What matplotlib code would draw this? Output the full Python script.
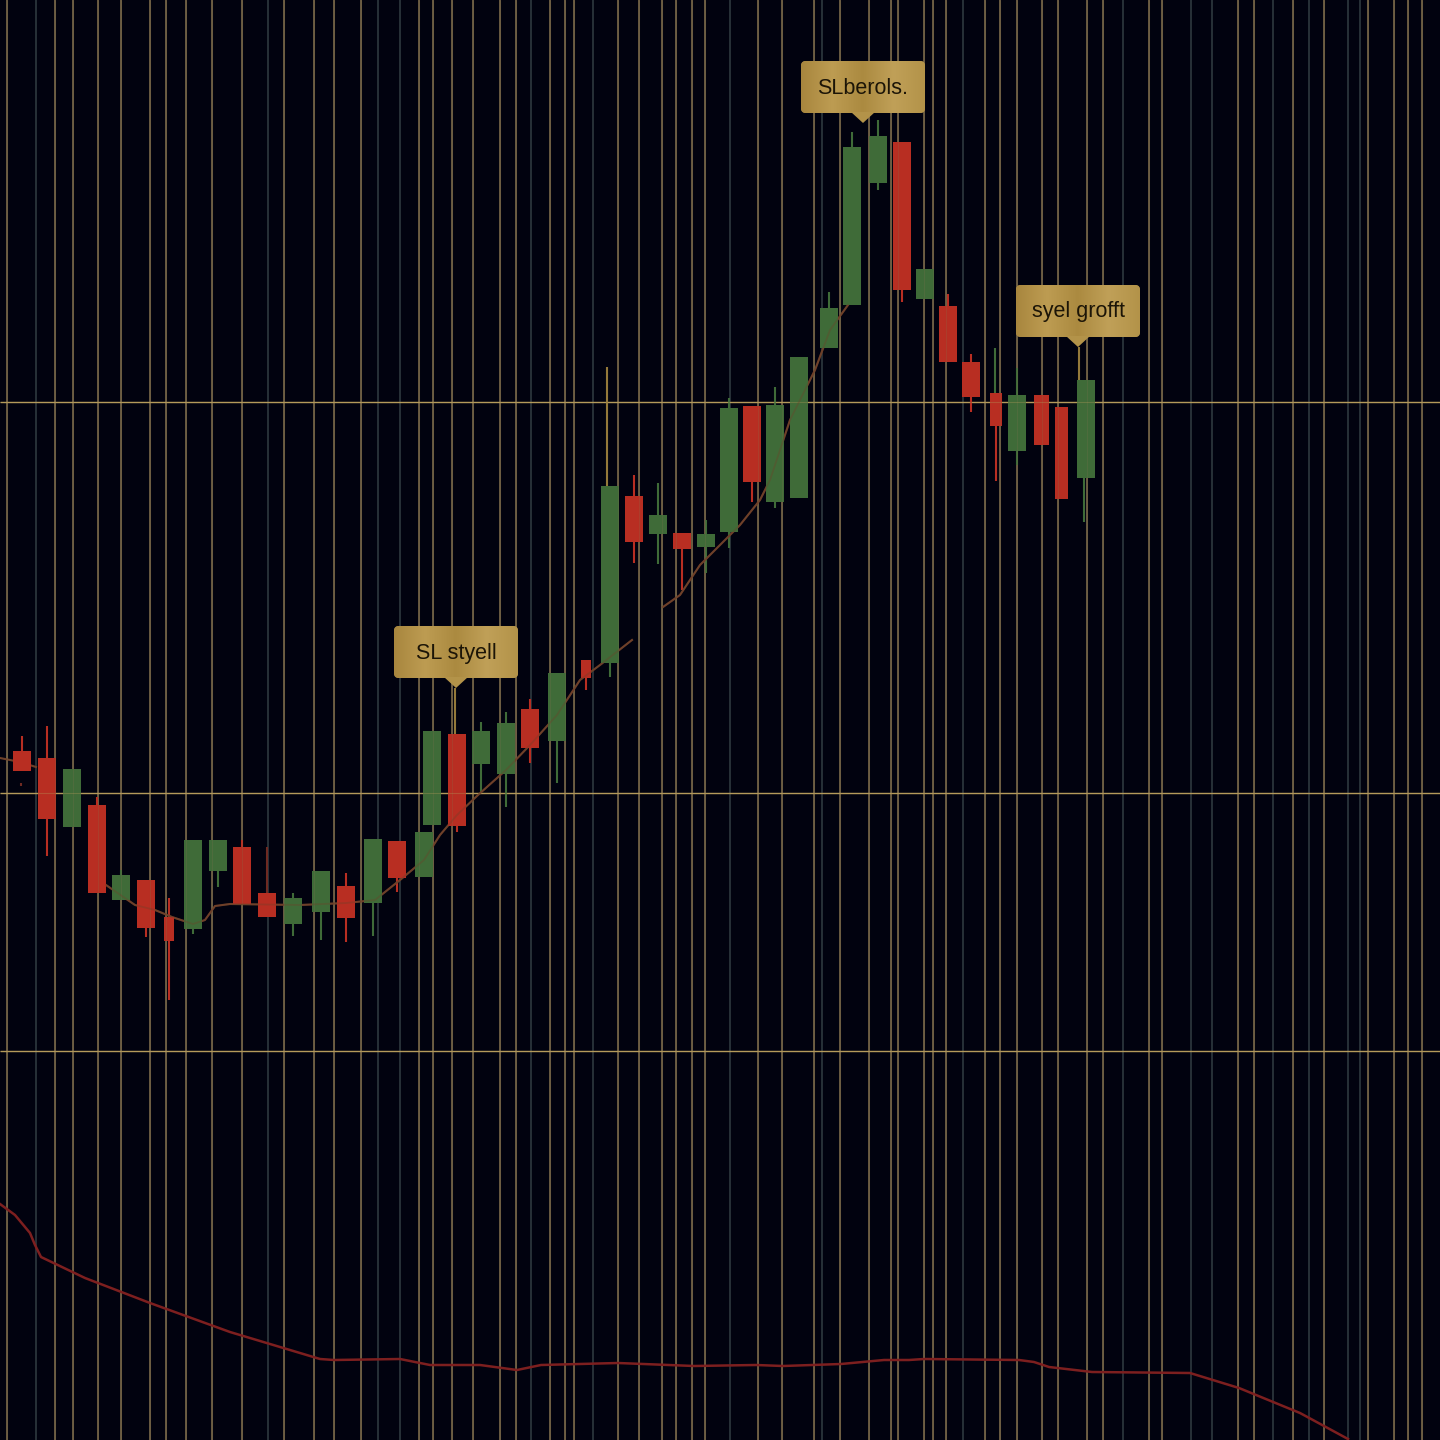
"""
Dark candlestick chart with gold labels, read off the reference picture.
Vertical scale runs downwards, values are read in picture units.
"""

import numpy as np
import matplotlib
matplotlib.use('Agg')
import matplotlib.pyplot as plt
from matplotlib.patches import FancyBboxPatch, Polygon
from matplotlib.colors import LinearSegmentedColormap


candle_x = [22, 47, 72, 97, 121, 146, 169, 193, 218, 242, 267, 293, 321, 346, 373,
            397, 424, 432, 457, 481, 506, 530, 557, 586, 610, 634, 658, 682, 706,
            729, 752, 775, 799, 829, 852, 878, 902, 925, 948, 971, 996, 1017, 1041,
            1061, 1086]
body_top = [751, 758, 769, 805, 875, 880, 917, 840, 840, 847, 893, 898, 871, 886, 839,
            841, 832, 731, 734, 731, 723, 709, 673, 660, 486, 496, 515, 533, 534,
            408, 406, 405, 357, 308, 147, 136, 142, 269, 306, 362, 393, 395, 395,
            407, 380]
body_bot = [771, 819, 827, 893, 900, 928, 941, 929, 871, 904, 917, 924, 912, 918, 903,
            878, 877, 825, 826, 764, 774, 748, 741, 678, 663, 542, 534, 549, 547,
            532, 482, 502, 498, 348, 305, 183, 290, 299, 362, 397, 426, 451, 445,
            499, 478]
wick_high = [736, 726, 769, 797, 870, 880, 898, 840, 840, 840, 893, 893, 871, 873, 839,
             841, 832, 731, 734, 722, 712, 699, 673, 660, 486, 475, 483, 533, 520,
             398, 406, 387, 357, 292, 132, 120, 142, 269, 294, 354, 393, 368, 395,
             407, 380]
wick_low = [771, 856, 827, 893, 900, 937, 1000, 934, 887, 904, 917, 936, 940, 942, 936,
            892, 877, 825, 832, 792, 807, 763, 783, 690, 677, 563, 564, 590, 573,
            548, 502, 508, 498, 348, 305, 190, 302, 299, 362, 412, 481, 465, 445,
            499, 478]
direction = ['d', 'd', 'u', 'd', 'u', 'd', 'd', 'u', 'u', 'd', 'd', 'u', 'u', 'd', 'u',
             'd', 'u', 'u', 'd', 'u', 'u', 'd', 'u', 'd', 'u', 'd', 'u', 'd', 'u',
             'u', 'd', 'u', 'u', 'u', 'u', 'u', 'd', 'u', 'd', 'd', 'd', 'u', 'd',
             'd', 'u']

# wicks that sit off their candle or have another colour
gold_wick_x = [455, 607, 1079]
gold_wick_top = [688, 367, 347]
gold_wick_bot = [734, 486, 380]
green_wick_x = [995, 1084]
green_wick_top = [348, 478]
green_wick_bot = [393, 522]
dark_wick_x = [267, 21]
dark_wick_top = [847, 783]
dark_wick_bot = [893, 786]

bright_grid = [7, 55, 73, 98, 121, 150, 166, 186, 212, 242, 284, 314, 334, 361, 419,
               433, 452, 473, 500, 516, 550, 565, 574, 618, 639, 662, 676, 692, 705,
               758, 782, 814, 840, 869, 891, 898, 924, 933, 946, 985, 1000, 1017, 1042,
               1058, 1087, 1103, 1149, 1162, 1238, 1254, 1293, 1324, 1368, 1394, 1408,
               1422]
dim_grid = [36, 268, 378, 400, 531, 593, 730, 822, 963, 1123, 1191, 1212, 1273, 1309,
            1348, 1360]
level_lines = [402, 793, 1051]

avg_x_a = [0, 20, 36]
avg_y_a = [758, 762, 767]
avg_x_b = [106, 135, 155, 172, 193, 205, 215, 230, 300, 346, 375, 400, 424, 440, 457,
           478, 506, 530, 557, 580, 600, 632]
avg_y_b = [885, 905, 910, 917, 924, 920, 906, 904, 905, 903, 900, 880, 860, 835, 815,
           795, 770, 745, 715, 680, 665, 640]
avg_x_c = [663, 680, 700, 720, 740, 760, 770, 790, 815, 830, 848]
avg_y_c = [607, 595, 565, 545, 525, 500, 480, 420, 370, 330, 305]

lower_x = [0, 15, 30, 35, 41, 85, 150, 230, 320, 334, 400, 430, 480, 517, 541, 618,
           694, 756, 783, 841, 884, 909, 924, 1019, 1034, 1049, 1092, 1190, 1239,
           1300, 1348]
lower_y = [1204, 1215, 1233, 1245, 1257, 1278, 1303, 1332, 1359, 1360, 1359, 1365, 1365,
           1370, 1365, 1363, 1366, 1365, 1366, 1364, 1360, 1360, 1359, 1360, 1362,
           1367, 1372, 1373, 1388, 1413, 1439]

label_texts = ['SLberols.', 'SL styell', 'syel grofft']
label_x = [863, 456, 1078]
label_tip = [123, 688, 347]

BG = '#01020f'
UP = '#3f6b38'
DOWN = '#b82e22'
GRID = '#85734f'
LEVEL = '#b49a5a'
AVG = '#6e4029'
BOX_W, BOX_H, TIP_H = 124, 52, 10
NARROW = {169: 10, 586: 10, 996: 12, 1041: 15, 1061: 13}

gold = LinearSegmentedColormap.from_list(
    'gold', ['#a8863e', '#bd9c52', '#ab8a40', '#c0a058', '#b39349'])

fig = plt.figure(figsize=(14.4, 14.4), dpi=100, facecolor=BG)
ax = fig.add_axes([0, 0, 1, 1])
ax.set_facecolor(BG)

ax.vlines(bright_grid, 0, 1440, colors=GRID, linewidth=1.1, zorder=1)
ax.vlines(dim_grid, 0, 1440, colors='#323d42', linewidth=1.1, zorder=1)
ax.hlines(level_lines, 0, 1440, colors=LEVEL, linewidth=1.0, zorder=1)

colors = [UP if d == 'u' else DOWN for d in direction]
widths = [NARROW.get(x, 17.5) for x in candle_x]
ax.vlines(candle_x, wick_high, wick_low, colors=colors, linewidth=1.5, zorder=2)
ax.vlines(gold_wick_x, gold_wick_top, gold_wick_bot, colors='#94793a', linewidth=1.5, zorder=2)
ax.vlines(green_wick_x, green_wick_top, green_wick_bot, colors=UP, linewidth=1.5, zorder=2)
ax.vlines(dark_wick_x, dark_wick_top, dark_wick_bot, colors='#6e2a22', linewidth=1.5, zorder=2)

# the average runs mostly behind the bodies
for xs, ys in [(avg_x_a, avg_y_a), (avg_x_b, avg_y_b), (avg_x_c, avg_y_c)]:
    ax.plot(xs, ys, color=AVG, linewidth=1.5, zorder=2.5)

ax.bar(candle_x, np.array(body_bot) - np.array(body_top), bottom=body_top,
       width=widths, color=colors, linewidth=0, zorder=3)

# faint grid, levels and average still show through the candles
ax.vlines(bright_grid, 0, 1440, colors=GRID, linewidth=0.8, alpha=0.22, zorder=4)
ax.hlines(level_lines, 0, 1440, colors=LEVEL, linewidth=0.8, alpha=0.35, zorder=4)
for xs, ys in [(avg_x_b, avg_y_b), (avg_x_c, avg_y_c)]:
    ax.plot(xs, ys, color=AVG, linewidth=1.3, alpha=0.35, zorder=4)

ax.plot(lower_x, lower_y, color='#7d1f1f', linewidth=1.8, zorder=5)

grad = np.linspace(0, 1, 256).reshape(1, -1)
for text, cx, tip in zip(label_texts, label_x, label_tip):
    top = tip - TIP_H - BOX_H
    left = cx - BOX_W / 2
    box = FancyBboxPatch((left + 4, top + 4), BOX_W - 8, BOX_H - 8,
                         boxstyle='round,pad=4,rounding_size=5',
                         facecolor='#b39349', edgecolor='none', zorder=6)
    ax.add_patch(box)
    img = ax.imshow(grad, cmap=gold, extent=(left, left + BOX_W, top + BOX_H, top),
                    aspect='auto', zorder=7)
    img.set_clip_path(box)
    ax.add_patch(Polygon([(cx - 12, top + BOX_H - 1), (cx + 12, top + BOX_H - 1), (cx, tip)],
                         closed=True, facecolor='#b39349', edgecolor='none', zorder=7))
    ax.text(cx, top + BOX_H / 2 + 1, text, color='#1c1507', fontsize=15.5,
            family='Liberation Sans', ha='center', va='center', zorder=8)

ax.set_xlim(0, 1440)
ax.set_ylim(1440, 0)
ax.axis('off')
fig.savefig('out.png', dpi=100, facecolor=BG)
